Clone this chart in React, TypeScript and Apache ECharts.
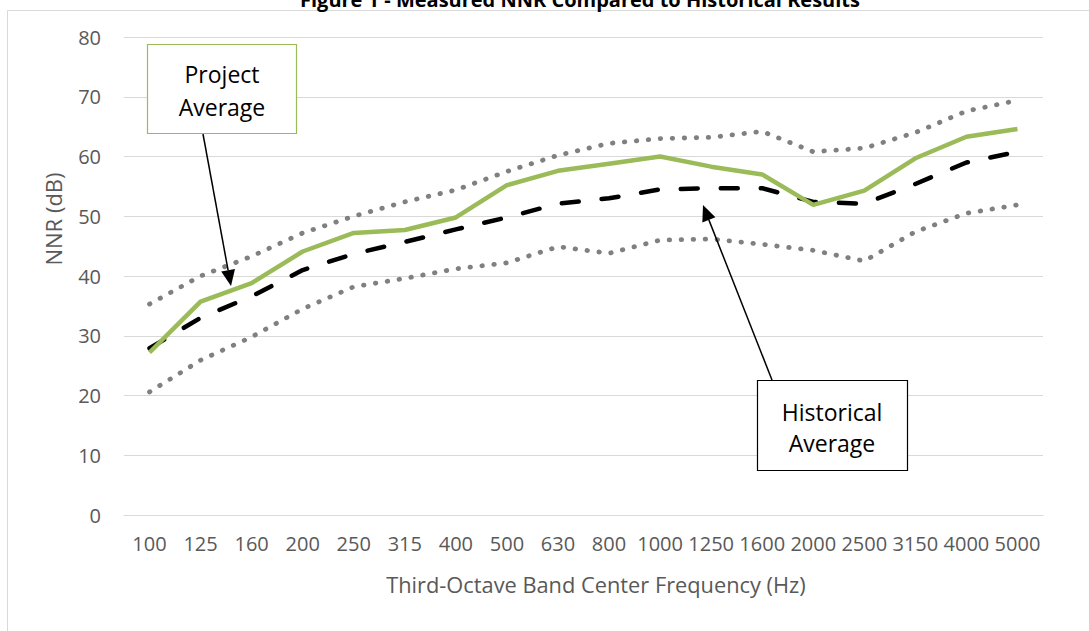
import React, { useEffect, useRef } from "react";
import * as echarts from "echarts";

const categories = ["100", "125", "160", "200", "250", "315", "400", "500", "630", "800", "1000", "1250", "1600", "2000", "2500", "3150", "4000", "5000"];
const projectAvg = [27.2, 35.7, 38.8, 44.1, 47.2, 47.7, 49.8, 55.2, 57.6, 58.8, 60.0, 58.3, 57.0, 51.9, 54.3, 59.7, 63.3, 64.6];
const historicalAvg = [27.9, 33.0, 36.6, 41.0, 43.7, 45.7, 47.8, 49.8, 52.1, 53.0, 54.5, 54.7, 54.7, 52.4, 52.1, 55.4, 59.0, 60.8];
const upperBound = [35.3, 40.0, 43.3, 47.2, 50.0, 52.4, 54.4, 57.5, 60.2, 62.2, 63.0, 63.2, 64.2, 60.8, 61.4, 64.0, 67.6, 69.4];
const lowerBound = [20.6, 25.9, 29.8, 34.5, 38.2, 39.6, 41.2, 42.2, 44.9, 43.8, 46.0, 46.2, 45.3, 44.3, 42.5, 47.4, 50.5, 51.9];
const yTicks = { min: 0, max: 80, interval: 10 };

const FONT = "'Open Sans', 'Noto Sans', sans-serif";

function arrow(x1: number, y1: number, x2: number, y2: number) {
  const dx = x2 - x1;
  const dy = y2 - y1;
  const len = Math.sqrt(dx * dx + dy * dy);
  const ux = dx / len;
  const uy = dy / len;
  const L = 16;
  const W = 7;
  const bx = x2 - L * ux;
  const by = y2 - L * uy;
  const nx = -uy;
  const ny = ux;
  return [
    { type: "line", shape: { x1, y1, x2: bx, y2: by }, style: { stroke: "#000", lineWidth: 1.5 }, z: 100 },
    {
      type: "polygon",
      shape: { points: [[x2, y2], [bx + W * nx, by + W * ny], [bx - W * nx, by - W * ny]] },
      style: { fill: "#000" },
      z: 100,
    },
  ];
}

export default function App() {
  const ref = useRef<HTMLDivElement>(null);
  useEffect(() => {
    if (!ref.current) return;
    const chart = echarts.init(ref.current, undefined, { renderer: "svg" });
    const lineBase = { type: "line", showSymbol: false, symbol: "none", silent: true };
    chart.setOption({
      animation: false,
      backgroundColor: "#fff",
      grid: { left: 124, right: 46, top: 37, bottom: 116, containLabel: false },
      xAxis: {
        type: "category",
        data: categories,
        boundaryGap: true,
        axisLine: { show: true, lineStyle: { color: "#d9d9d9", width: 1 } },
        axisTick: { show: false },
        axisLabel: { interval: 0, color: "#595959", fontFamily: FONT, fontSize: 20, margin: 18 },
      },
      yAxis: {
        type: "value",
        min: yTicks.min,
        max: yTicks.max,
        interval: yTicks.interval,
        axisLine: { show: false },
        axisTick: { show: false },
        axisLabel: { color: "#595959", fontFamily: FONT, fontSize: 20, margin: 23 },
        splitLine: { lineStyle: { color: "#d9d9d9", width: 1.2 } },
      },
      series: [
        { ...lineBase, name: "Upper", data: upperBound, lineStyle: { color: "#808080", width: 4.8, type: [0.5, 11.5], cap: "round" }, z: 2 },
        { ...lineBase, name: "Lower", data: lowerBound, lineStyle: { color: "#808080", width: 4.8, type: [0.5, 11.5], cap: "round" }, z: 2 },
        { ...lineBase, name: "Historical Average", data: historicalAvg, lineStyle: { color: "#000", width: 4.5, type: [17, 23], cap: "round" }, z: 3 },
        { ...lineBase, name: "Project Average", data: projectAvg, lineStyle: { color: "#9BBB59", width: 4.5 }, z: 4 },
      ],
      graphic: [
        { type: "rect", shape: { x: 7.5, y: 10.5, width: 1200, height: 700 }, style: { fill: "none", stroke: "#d9d9d9", lineWidth: 1 }, z: 0, silent: true },
        {
          type: "text",
          x: 580,
          y: -1,
          style: { text: "Figure 1 - Measured NNR Compared to Historical Results", fill: "#000", font: `bold 20px ${FONT}`, align: "center", verticalAlign: "middle" },
        },
        {
          type: "text",
          x: 53,
          y: 219,
          rotation: Math.PI / 2,
          style: { text: "NNR (dB)", fill: "#595959", font: `22px ${FONT}`, align: "center", verticalAlign: "middle" },
        },
        {
          type: "text",
          x: 596,
          y: 584,
          style: { text: "Third-Octave Band Center Frequency (Hz)", fill: "#595959", font: `21.8px ${FONT}`, align: "center", verticalAlign: "middle" },
        },
        { type: "rect", shape: { x: 147.5, y: 44.5, width: 149, height: 89 }, style: { fill: "#fff", stroke: "#9BBB59", lineWidth: 1.2 }, z: 101 },
        { type: "text", x: 222, y: 74, style: { text: "Project", fill: "#000", font: `23px ${FONT}`, align: "center", verticalAlign: "middle" }, z: 102 },
        { type: "text", x: 222, y: 107, style: { text: "Average", fill: "#000", font: `23px ${FONT}`, align: "center", verticalAlign: "middle" }, z: 102 },
        { type: "rect", shape: { x: 757.5, y: 380.5, width: 150, height: 90 }, style: { fill: "#fff", stroke: "#000", lineWidth: 1.2 }, z: 101 },
        { type: "text", x: 832, y: 412, style: { text: "Historical", fill: "#000", font: `23px ${FONT}`, align: "center", verticalAlign: "middle" }, z: 102 },
        { type: "text", x: 832, y: 443, style: { text: "Average", fill: "#000", font: `23px ${FONT}`, align: "center", verticalAlign: "middle" }, z: 102 },
        ...arrow(203, 134, 231, 286),
        ...arrow(772, 380, 703, 205),
      ],
    });
    return () => chart.dispose();
  }, []);
  return <div ref={ref} style={{ position: "absolute", left: 0, top: 0, width: 1089, height: 631 }} />;
}
